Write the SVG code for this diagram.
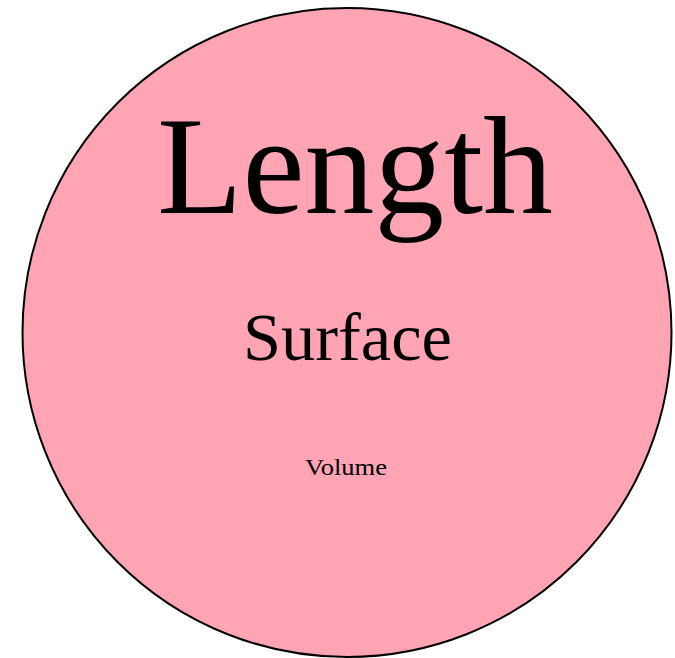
<svg xmlns="http://www.w3.org/2000/svg" width="675" height="658" viewBox="0 0 675 658">
<style>
text { font-family: "Liberation Serif", "Times New Roman", serif; fill: #000; text-anchor: middle; }
</style>
<rect width="675" height="658" fill="#fff"/>
<g id="circle">
<circle cx="347" cy="332.5" r="324.5" fill="#FFA4B4" stroke="#000" stroke-width="2"/>
<text x="355" y="213" font-size="140" textLength="396" lengthAdjust="spacingAndGlyphs">Length</text>
<text x="347.5" y="360" font-size="67" textLength="209" lengthAdjust="spacingAndGlyphs">Surface</text>
<text x="346" y="475" font-size="24" textLength="82" lengthAdjust="spacingAndGlyphs">Volume</text>
</g>
</svg>
